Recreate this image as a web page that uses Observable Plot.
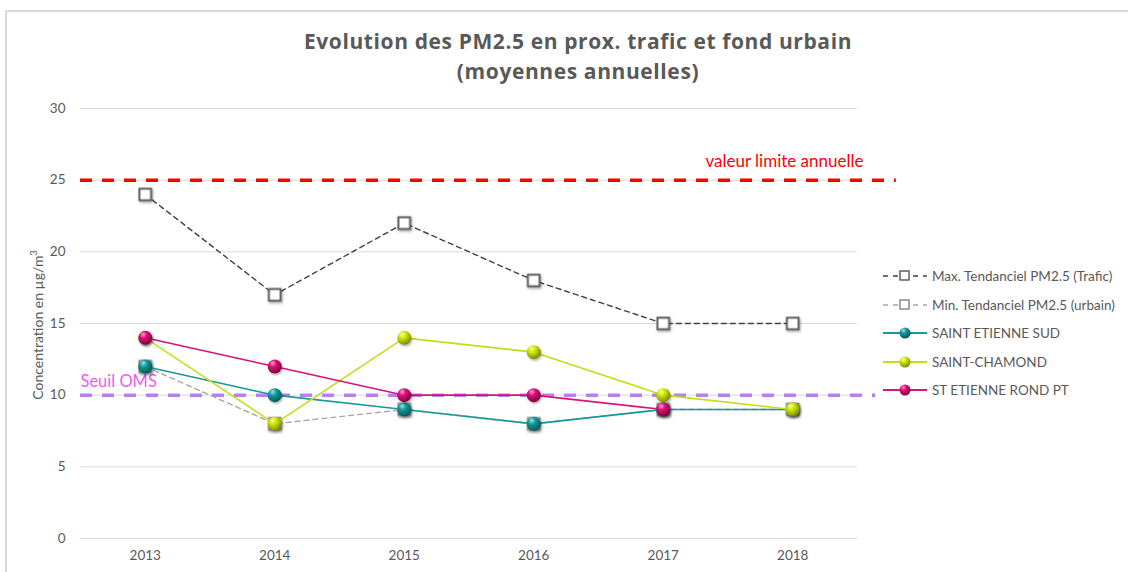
<!DOCTYPE html>
<html>
<head>
<meta charset="utf-8">
<script src="https://cdn.jsdelivr.net/npm/d3@7"></script>
<script src="https://cdn.jsdelivr.net/npm/@observablehq/plot@0.6"></script>
<style>
  html, body { margin: 0; padding: 0; background: #fff; }
  #wrap { position: relative; width: 1128px; height: 572px; overflow: hidden; font-family: Lato, "Open Sans", sans-serif; color: #595959; }
  #frame { position: absolute; left: 5px; top: 10px; width: 1200px; height: 700px; border: 1px solid #d9d9d9; border-width: 2px 0 0 2px; box-sizing: border-box; }
  #title { position: absolute; left: 0; width: 1156px; top: 26px; text-align: center; font-family: "Open Sans", sans-serif; font-weight: bold; font-size: 21px; letter-spacing: 0.6px; line-height: 30px; color: #595959; }
  #ylab { position: absolute; left: 37px; top: 325px; transform: translate(-50%, -50%) rotate(-90deg); white-space: nowrap; font-size: 14px; color: #595959; }
  #chart { position: absolute; left: 0; top: 0; }
  #legend { position: absolute; left: 882px; top: 262px; font-size: 13.5px; color: #595959; }
  .row { display: flex; align-items: center; height: 28.5px; }
  .row svg { margin-right: 4px; }
</style>
</head>
<body>
<div id="wrap">
  <div id="frame"></div>
  <div id="chart"></div>
  <div id="title">Evolution des PM2.5 en prox. trafic et fond urbain<br>(moyennes annuelles)</div>
  <div id="ylab">Concentration en µg/m<sup style="font-size:9px">3</sup></div>
  <div id="legend"></div>
</div>
<script>
// ---- Data ----
const years = [2013, 2014, 2015, 2016, 2017, 2018];
const maxTrafic = [24, 17, 22, 18, 15, 15];
const minUrbain = [12, 8, 9, 8, 9, 9];
const saintEtienneSud = [12, 10, 9, 8, 9, 9];
const saintChamond = [14, 8, 14, 13, 10, 9];
const stEtienneRondPt = [14, 12, 10, 10, 9, null];
const yTicks = [0, 5, 10, 15, 20, 25, 30];
const valeurLimite = 25;
const seuilOMS = 10;
const seriesNames = [
  "Max. Tendanciel PM2.5 (Trafic)",
  "Min. Tendanciel PM2.5 (urbain)",
  "SAINT ETIENNE SUD",
  "SAINT-CHAMOND",
  "ST ETIENNE ROND PT"
];

// ---- Styles ----
const colTeal = "#16999a", colYellow = "#c6dc16", colMag = "#d8147a";
const toRows = (vals) => years.map((x, i) => ({x, y: vals[i]})).filter(d => d.y != null);

const xDom = [2012.5, 2018.5];
const redEnd = 2018.8, purpleEnd = 2018.64;

const plot = Plot.plot({
  width: 1128,
  height: 572,
  marginLeft: 80,
  marginRight: 271,
  marginTop: 108,
  marginBottom: 34,
  style: {fontFamily: "Lato, 'Open Sans', sans-serif", fontSize: "13.5px", color: "#595959", background: "transparent", overflow: "visible"},
  x: {domain: xDom, ticks: years, tickFormat: d => String(d), tickSize: 0, tickPadding: 12, label: null},
  y: {domain: [0, 30], ticks: yTicks, tickSize: 0, tickPadding: 15, label: null},
  marks: [
    Plot.ruleY(yTicks, {stroke: "#d9d9d9", strokeWidth: 1, x1: xDom[0], x2: xDom[1]}),
    // reference lines
    Plot.ruleY([valeurLimite], {x1: xDom[0], x2: redEnd, stroke: "#ff0000", strokeWidth: 3.5, strokeDasharray: "12,10", clip: false}),
    Plot.ruleY([seuilOMS], {x1: xDom[0], x2: purpleEnd, stroke: "#b77ff0", strokeWidth: 3.5, strokeDasharray: "12,10", clip: false}),
    Plot.text([valeurLimite], {x: xDom[1], y: d => d, text: () => "valeur limite annuelle", textAnchor: "end", dx: 6, dy: -19, fill: "#ff0000", fontSize: 17}),
    Plot.text([seuilOMS], {x: xDom[0], y: d => d, text: () => "Seuil OMS", textAnchor: "start", dx: 0, dy: -13, fill: "#ee5cee", fontSize: 16.5}),
    // Max trafic
    Plot.line(toRows(maxTrafic), {x: "x", y: "y", stroke: "#404040", strokeWidth: 1.4, strokeDasharray: "5,4"}),
    Plot.dot(toRows(maxTrafic), {x: "x", y: "y", symbol: "square", r: 6.6, fill: "white", stroke: "#5f5f5f", strokeWidth: 2}),
    // Min urbain
    Plot.line(toRows(minUrbain), {x: "x", y: "y", stroke: "#a6a6a6", strokeWidth: 1.4, strokeDasharray: "5,4"}),
    Plot.dot(toRows(minUrbain), {x: "x", y: "y", symbol: "square", r: 6.6, fill: "white", stroke: "#8a8a8a", strokeWidth: 2}),
    // Saint Etienne Sud
    Plot.line(toRows(saintEtienneSud), {x: "x", y: "y", stroke: colTeal, strokeWidth: 1.6}),
    Plot.dot(toRows(saintEtienneSud), {x: "x", y: "y", r: 7, fill: "url(#gTeal)", stroke: "none"}),
    // Saint-Chamond
    Plot.line(toRows(saintChamond), {x: "x", y: "y", stroke: colYellow, strokeWidth: 1.6}),
    Plot.dot(toRows(saintChamond), {x: "x", y: "y", r: 7, fill: "url(#gYellow)", stroke: "none"}),
    // St Etienne Rond Pt
    Plot.line(toRows(stEtienneRondPt), {x: "x", y: "y", stroke: colMag, strokeWidth: 1.6}),
    Plot.dot(toRows(stEtienneRondPt), {x: "x", y: "y", r: 7, fill: "url(#gMag)", stroke: "none"})
  ]
});

// gradients + shadow
const defsHTML = (id, light, base, dark) => `
  <radialGradient id="${id}" cx="0.38" cy="0.32" r="0.75" fx="0.35" fy="0.25">
    <stop offset="0" stop-color="${light}"/>
    <stop offset="0.35" stop-color="${base}"/>
    <stop offset="1" stop-color="${dark}"/>
  </radialGradient>`;
const defs = `<defs>
  ${defsHTML("gTeal", "#9fe3e3", "#14999a", "#004f50")}
  ${defsHTML("gYellow", "#f6ffa0", "#d2e600", "#6e7d00")}
  ${defsHTML("gMag", "#ff9cc8", "#dc0f78", "#6e0035")}
  <filter id="shadow" x="-50%" y="-50%" width="200%" height="200%">
    <feDropShadow dx="1" dy="1.5" stdDeviation="1.2" flood-color="#000" flood-opacity="0.35"/>
  </filter>
</defs>`;
plot.insertAdjacentHTML("afterbegin", defs);
d3.select(plot).selectAll("g[aria-label='dot']").attr("filter", "url(#shadow)");
d3.select(plot).selectAll("g[aria-label='x-axis tick label'], g[aria-label='y-axis tick label']").attr("fill", "#595959");
document.getElementById("chart").appendChild(plot);

// ---- Legend ----
const legendSpecs = [
  {type: "sq", stroke: "#404040", sq: "#5f5f5f"},
  {type: "sq", stroke: "#a6a6a6", sq: "#8a8a8a"},
  {type: "ball", stroke: colTeal, grad: "gTeal"},
  {type: "ball", stroke: colYellow, grad: "gYellow"},
  {type: "ball", stroke: colMag, grad: "gMag"}
];
const leg = document.getElementById("legend");
seriesNames.forEach((name, i) => {
  const s = legendSpecs[i];
  const row = document.createElement("div");
  row.className = "row";
  let icon;
  if (s.type === "sq") {
    icon = `<svg width="46" height="14"><line x1="1" x2="45" y1="7" y2="7" stroke="${s.stroke}" stroke-width="1.5" stroke-dasharray="5,5"/><rect x="18" y="2" width="9" height="9" fill="white" stroke="${s.sq}" stroke-width="1.5"/></svg>`;
  } else {
    icon = `<svg width="46" height="14"><line x1="1" x2="45" y1="7" y2="7" stroke="${s.stroke}" stroke-width="1.8"/><circle cx="23" cy="7" r="5.5" fill="url(#${s.grad})"/></svg>`;
  }
  row.innerHTML = icon + `<span>${name}</span>`;
  leg.appendChild(row);
});
</script>
</body>
</html>
